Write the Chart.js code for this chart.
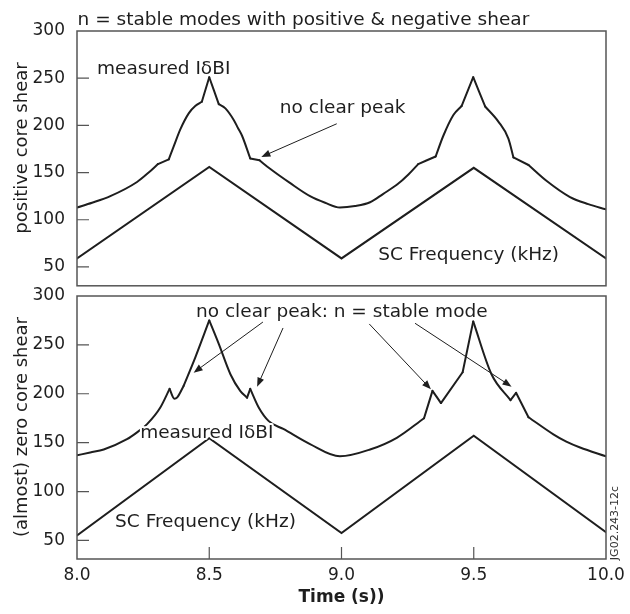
<!DOCTYPE html>
<html><head><meta charset="utf-8">
<script src="https://cdn.jsdelivr.net/npm/chart.js@4.4.1/dist/chart.umd.min.js"></script>
<style>
html,body{margin:0;padding:0;background:#fff;}
body{width:630px;height:614px;position:relative;overflow:hidden;}
#top{position:absolute;left:0;top:0;width:630px;height:300px;}
#bot{position:absolute;left:0;top:266px;width:630px;height:348px;}
canvas{display:block;}
</style></head><body>
<div id="top"><canvas id="c1" width="630" height="300"></canvas></div>
<div id="bot"><canvas id="c2" width="630" height="348"></canvas></div>
<script>
// ---------- data ----------
const xTicks = [8.0, 8.5, 9.0, 9.5, 10.0];
const yTicks = [50, 100, 150, 200, 250, 300];
const yInnerTicks = [50, 100, 150, 200, 250];
const xInnerTicks = [8.5, 9.0, 9.5];

// top panel: positive core shear
const topMeasuredT = [8.000, 8.057, 8.126, 8.227, 8.271, 8.306, 8.347, 8.366, 8.391, 8.423, 8.447, 8.472, 8.500,
  8.536, 8.561, 8.592, 8.609, 8.624, 8.655, 8.690, 8.730, 8.805, 8.881, 8.938, 8.994, 9.051, 9.108, 9.158,
  9.209, 9.253, 9.290, 9.356, 9.385, 9.423, 9.454, 9.498, 9.543, 9.593, 9.631, 9.650, 9.707, 9.776, 9.864,
  9.933, 10.000];
const topMeasuredV = [113, 118, 125, 140, 150, 159, 164, 178, 196, 213, 220.5, 225, 251,
  222.5, 218, 206, 197, 189, 165, 163, 154, 139, 125, 118, 113, 114.5, 118.5, 127.5,
  137, 148, 159, 167, 189, 211, 220.5, 251, 220, 204, 186, 166, 158, 141, 124,
  116.5, 111];
// times where the measured curve has a corner
const topKinks = [8.306, 8.347, 8.472, 8.500, 8.536, 8.655, 8.690, 9.290, 9.356, 9.454, 9.498, 9.543, 9.650, 9.707];
const topFreqT = [8.0, 8.5, 9.0, 9.5, 10.0];
const topFreqV = [59, 156, 59, 155, 59];

// bottom panel: (almost) zero core shear
const botMeasuredT = [8.000, 8.050, 8.101, 8.189, 8.227, 8.265, 8.315, 8.350, 8.368, 8.378, 8.403, 8.447, 8.500,
  8.536, 8.580, 8.617, 8.643, 8.655, 8.687, 8.725, 8.780, 8.881, 8.994, 9.108, 9.209, 9.312, 9.344, 9.376,
  9.458, 9.498, 9.567, 9.639, 9.660, 9.707, 9.801, 9.850, 9.902, 10.000];
const botMeasuredV = [137, 140, 143, 153.5, 160.5, 169, 186, 205, 195, 196, 208, 237, 275,
  251, 220, 203, 196, 205, 186, 172, 164, 148.5, 136, 143, 155, 175, 203, 190.5,
  222, 274, 220, 193.5, 201, 176, 158.5, 151, 145, 136];
const botKinks = [8.350, 8.403, 8.500, 8.643, 8.655, 9.312, 9.344, 9.376, 9.458, 9.498, 9.639, 9.660, 9.707];
const botFreqT = [8.0, 8.5, 9.0, 9.5, 10.0];
const botFreqV = [55, 154.5, 57.5, 157, 58.5];

// ---------- helpers ----------
const FONT = 'DejaVu Sans';
const INK = '#1e1e1e';
const pts = (ts, vs) => ts.map((t, i) => ({x: t, y: vs[i]}));
const lineDs = (data, smooth) => ({
  data: data, borderColor: INK, borderWidth: 2, pointRadius: 0,
  tension: 0, fill: false, borderJoinStyle: 'miter', borderCapStyle: 'round',
  cubicInterpolationMode: smooth ? 'monotone' : 'default'
});
// split a measured series at its corners; each piece is drawn smooth
function pieces(ts, vs, kinks) {
  const out = []; let cur = [];
  ts.forEach((t, i) => {
    cur.push({x: t, y: vs[i]});
    if (kinks.includes(t) && cur.length > 1) { out.push(cur); cur = [{x: t, y: vs[i]}]; }
  });
  if (cur.length > 1) out.push(cur);
  return out.map(p => lineDs(p, true));
}

const decor = {
  id: 'decor',
  afterDatasetsDraw(chart, args, o) {
    const {ctx, chartArea: a} = chart;
    const x = chart.scales.x, y = chart.scales.y;
    ctx.save();
    ctx.strokeStyle = '#555'; ctx.lineWidth = 1.5;
    ctx.strokeRect(a.left, a.top, a.right - a.left, a.bottom - a.top);
    ctx.beginPath();
    (o.yIn || []).forEach(v => { const py = y.getPixelForValue(v); ctx.moveTo(a.left, py); ctx.lineTo(a.left + 12, py); });
    (o.xIn || []).forEach(v => { const px = x.getPixelForValue(v); ctx.moveTo(px, a.bottom); ctx.lineTo(px, a.bottom - 12); });
    ctx.lineWidth = 1.2; ctx.stroke();
    ctx.strokeStyle = INK; ctx.fillStyle = INK; ctx.lineWidth = 1;
    (o.arrows || []).forEach(ar => {
      const x1 = x.getPixelForValue(ar.from[0]), y1 = y.getPixelForValue(ar.from[1]);
      const x2 = x.getPixelForValue(ar.to[0]), y2 = y.getPixelForValue(ar.to[1]);
      const ang = Math.atan2(y2 - y1, x2 - x1);
      const L = 9, W = 3.5;
      ctx.beginPath(); ctx.moveTo(x1, y1);
      ctx.lineTo(x2 - Math.cos(ang) * L * 0.8, y2 - Math.sin(ang) * L * 0.8); ctx.stroke();
      ctx.beginPath();
      ctx.moveTo(x2, y2);
      ctx.lineTo(x2 - Math.cos(ang) * L + Math.sin(ang) * W, y2 - Math.sin(ang) * L - Math.cos(ang) * W);
      ctx.lineTo(x2 - Math.cos(ang) * L - Math.sin(ang) * W, y2 - Math.sin(ang) * L + Math.cos(ang) * W);
      ctx.closePath(); ctx.fill();
    });
    ctx.textAlign = 'left'; ctx.textBaseline = 'alphabetic';
    (o.texts || []).forEach(t => {
      ctx.font = (t.size || 18.5) + 'px "' + FONT + '"';
      const px = x.getPixelForValue(t.t), py = y.getPixelForValue(t.v);
      if (t.halo) { ctx.lineWidth = 4; ctx.strokeStyle = '#fff'; ctx.lineJoin = 'round'; ctx.strokeText(t.text, px, py); }
      ctx.fillStyle = INK; ctx.fillText(t.text, px, py);
    });
    (o.vtexts || []).forEach(t => {
      ctx.save();
      ctx.translate(t.px, t.py); ctx.rotate(-Math.PI / 2);
      ctx.font = t.size + 'px "' + FONT + '"';
      ctx.textAlign = 'center'; ctx.textBaseline = 'middle';
      ctx.fillStyle = t.color || INK; ctx.fillText(t.text, 0, 0);
      ctx.restore();
    });
    ctx.restore();
  }
};

const yAxis = (min) => ({
  type: 'linear', min: min, max: 300,
  afterFit: s => { s.width = 77; },
  afterBuildTicks: s => { s.ticks = yTicks.map(v => ({value: v})); },
  grid: {display: false}, border: {display: false},
  ticks: {font: {family: FONT, size: 17}, color: INK, padding: 4}
});

// ---------- top chart ----------
new Chart(document.getElementById('c1'), {
  type: 'line',
  data: {datasets: [...pieces(topMeasuredT, topMeasuredV, topKinks), lineDs(pts(topFreqT, topFreqV), false)]},
  options: {
    responsive: false, animation: false, devicePixelRatio: 1,
    layout: {padding: {left: 0, right: 24, top: 31, bottom: 4}},
    plugins: {
      legend: {display: false}, tooltip: {enabled: false},
      decor: {
        yIn: yInnerTicks,
        arrows: [{from: [8.982, 201.7], to: [8.697, 166.6]}],
        texts: [
          {text: 'n = stable modes with positive & negative shear', t: 8.002, v: 306.1},
          {text: 'measured I\u03b4BI', t: 8.076, v: 254.1},
          {text: 'no clear peak', t: 8.767, v: 213.6},
          {text: 'SC Frequency (kHz)', t: 9.139, v: 57.4}
        ],
        vtexts: [{text: 'positive core shear', px: 22, py: 148, size: 18}]
      }
    },
    scales: {
      x: {type: 'linear', min: 8, max: 10, display: false},
      y: yAxis(30)
    }
  },
  plugins: [decor]
});

// ---------- bottom chart ----------
new Chart(document.getElementById('c2'), {
  type: 'line',
  data: {datasets: [...pieces(botMeasuredT, botMeasuredV, botKinks), lineDs(pts(botFreqT, botFreqV), false)]},
  options: {
    responsive: false, animation: false, devicePixelRatio: 1,
    layout: {padding: {left: 0, right: 24, top: 30, bottom: 0}},
    plugins: {
      legend: {display: false}, tooltip: {enabled: false},
      decor: {
        yIn: yInnerTicks, xIn: xInnerTicks,
        arrows: [
          {from: [8.703, 273.4], to: [8.441, 221.6]},
          {from: [8.779, 267.3], to: [8.681, 207.3]},
          {from: [9.105, 271.4], to: [9.338, 204.6]},
          {from: [9.278, 272.1], to: [9.643, 207.3]}
        ],
        texts: [
          {text: 'no clear peak: n = stable mode', t: 8.45, v: 278.8},
          {text: 'measured I\u03b4BI', t: 8.239, v: 154.5, halo: true},
          {text: 'SC Frequency (kHz)', t: 8.144, v: 63.5}
        ],
        vtexts: [
          {text: '(almost) zero core shear', px: 22, py: 161, size: 18},
          {text: 'JG02.243-12c', px: 615, py: 257, size: 11, color: '#333'}
        ]
      }
    },
    scales: {
      x: {
        type: 'linear', min: 8, max: 10,
        afterFit: s => { s.height = 55; },
        afterBuildTicks: s => { s.ticks = xTicks.map(v => ({value: v})); },
        grid: {display: false}, border: {display: false},
        ticks: {font: {family: FONT, size: 17}, color: INK, padding: -2, maxRotation: 0,
          callback: v => Number(v).toFixed(1)},
        title: {display: true, text: 'Time (s))', color: INK,
          font: {family: FONT, size: 17, weight: 'bold'}, padding: {top: 0, bottom: 6}}
      },
      y: yAxis(31)
    }
  },
  plugins: [decor]
});
</script>
</body></html>
